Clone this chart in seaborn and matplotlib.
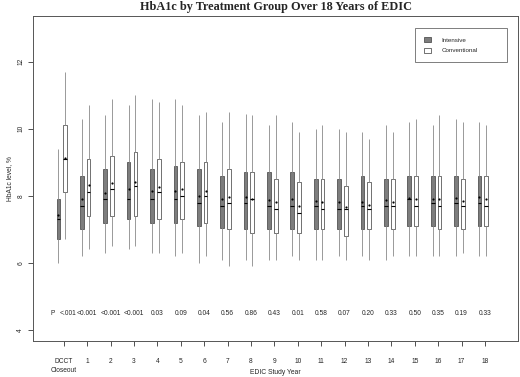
import numpy as np
import pandas as pd
import matplotlib
matplotlib.use("Agg")
import matplotlib.pyplot as plt
import seaborn as sns

# ===== DATA =====
years = ["DCCT\nCloseout"] + [str(i) for i in range(1, 19)]
p_values = ["<.001", "<0.001", "<0.001", "<0.001", "0.03", "0.09", "0.04", "0.56", "0.86",
            "0.43", "0.01", "0.58", "0.07", "0.20", "0.33", "0.50", "0.35", "0.19", "0.33"]

# intensive group: whisker low, Q1, median, Q3, whisker high, mean
int_lo = [6.0, 6.2, 6.3, 6.4, 6.3, 6.2, 6.0, 6.1, 6.1, 6.1, 6.2, 6.1, 6.2, 6.2, 6.1, 6.2, 6.2, 6.2, 6.2]
int_q1 = [6.7, 7.0, 7.2, 7.3, 7.2, 7.2, 7.1, 7.05, 7.0, 7.0, 7.0, 7.0, 7.0, 7.0, 7.1, 7.1, 7.1, 7.1, 7.1]
int_med = [7.3, 7.7, 7.9, 7.9, 7.9, 7.9, 7.8, 7.7, 7.8, 7.7, 7.7, 7.7, 7.6, 7.7, 7.7, 7.9, 7.8, 7.8, 7.8]
int_q3 = [7.9, 8.6, 8.8, 9.0, 8.8, 8.9, 8.8, 8.6, 8.7, 8.7, 8.7, 8.5, 8.5, 8.6, 8.5, 8.6, 8.6, 8.6, 8.6]
int_hi = [9.4, 10.3, 10.4, 10.7, 10.9, 10.9, 10.4, 10.2, 10.45, 10.1, 10.2, 10.0, 10.0, 9.9, 10.1, 10.2, 10.1, 10.3, 10.2]
int_mean = [7.42, 7.91, 8.09, 8.21, 8.15, 8.13, 8.01, 7.91, 7.98, 7.87, 7.91, 7.85, 7.83, 7.83, 7.87, 7.95, 7.91, 7.95, 7.98]

# conventional group
conv_lo = [6.7, 6.4, 6.5, 6.5, 6.3, 6.3, 6.2, 5.9, 5.9, 6.1, 6.1, 6.1, 6.1, 6.1, 6.2, 6.2, 6.2, 6.3, 6.2]
conv_q1 = [8.1, 7.4, 7.4, 7.4, 7.3, 7.3, 7.2, 7.0, 6.9, 6.9, 6.9, 7.0, 6.8, 7.0, 7.0, 7.1, 7.0, 7.0, 7.1]
conv_med = [9.1, 8.1, 8.2, 8.3, 8.1, 8.0, 8.0, 7.8, 7.9, 7.6, 7.5, 7.6, 7.6, 7.6, 7.7, 7.7, 7.7, 7.7, 7.7]
conv_q3 = [10.1, 9.1, 9.2, 9.3, 9.1, 9.0, 9.0, 8.8, 8.7, 8.5, 8.4, 8.5, 8.3, 8.4, 8.5, 8.6, 8.6, 8.5, 8.6]
conv_hi = [11.7, 10.7, 10.9, 11.0, 10.8, 10.7, 10.5, 10.5, 10.4, 10.4, 9.9, 10.1, 9.9, 9.7, 9.9, 10.3, 10.4, 10.2, 10.1]
conv_mean = [9.12, 8.33, 8.39, 8.42, 8.27, 8.21, 8.15, 7.98, 7.92, 7.83, 7.71, 7.82, 7.68, 7.73, 7.81, 7.90, 7.91, 7.85, 7.91]

# five-number data per box -> seaborn computes the same quartiles back
rows = []
for i, yr in enumerate(years):
    for grp, stats in (("Intensive", (int_lo, int_q1, int_med, int_q3, int_hi)),
                       ("Conventional", (conv_lo, conv_q1, conv_med, conv_q3, conv_hi))):
        for s in stats:
            rows.append({"year": yr, "group": grp, "value": s[i]})
df = pd.DataFrame(rows)

# ===== PLOT =====
sns.set_style("white")
plt.rcParams["font.family"] = ["Liberation Sans", "DejaVu Sans"]

fig, ax = plt.subplots(figsize=(5.2, 3.77), dpi=100)
fig.subplots_adjust(left=0.064, right=0.996, top=0.958, bottom=0.0955)

width = 0.58
sns.boxplot(data=df, x="year", y="value", hue="group", order=years,
            hue_order=["Intensive", "Conventional"],
            palette={"Intensive": "#7d7d7d", "Conventional": "white"},
            width=width, gap=0.45, whis=(0, 100), showcaps=False,
            linecolor="#4a4a4a", linewidth=0.55,
            medianprops=dict(color="black", linewidth=0.8),
            whiskerprops=dict(color="#999999", linewidth=0.7),
            ax=ax)

pos = np.arange(len(years))
off = width / 4
ax.scatter(pos - off, int_mean, s=2.5, color="black", zorder=5, linewidths=0)
ax.scatter(pos + off, conv_mean, s=2.5, color="black", zorder=5, linewidths=0)

ax.set_xlim(-1.22, 19.5)
ax.set_ylim(3.67, 13.37)
ax.set_xticks(pos + 0.09)
ax.set_xticklabels(years, fontsize=4.8, linespacing=1.3)
ax.set_yticks([4, 6, 8, 10, 12])
ax.set_yticklabels(["4", "6", "8", "10", "12"], fontsize=4.8, rotation=90, va="center")
ax.tick_params(axis="both", direction="out", length=3.5, width=0.6, color="#333333",
               bottom=True, left=True)
ax.tick_params(axis="x", pad=9)
ax.tick_params(axis="y", pad=3)

for sp in ax.spines.values():
    sp.set_visible(True)
    sp.set_color("#555555")
    sp.set_linewidth(0.7)

# p-values row
ax.text(-0.37, 4.5, "P", fontsize=4.8, ha="center", va="center")
for i, p in enumerate(p_values):
    x = pos[i] + 0.09 if i > 0 else 0.25
    ax.text(x, 4.5, p, fontsize=4.8, ha="center", va="center")

ax.set_xlabel("EDIC Study Year", fontsize=4.9)
ax.xaxis.set_label_coords(0.5, -0.086)
ax.set_ylabel("HbA1c level, %", fontsize=4.8)
ax.yaxis.set_label_coords(-0.042, 0.5)
ax.set_title("HbA1c by Treatment Group Over 18 Years of EDIC",
             fontfamily="Liberation Serif", fontweight="bold", fontsize=8.8, pad=4)

handles, labels = ax.get_legend_handles_labels()
leg = ax.legend(handles, labels, loc="upper left", bbox_to_anchor=(0.7875, 0.8, 0.19, 0.163),
                mode="expand", fontsize=4.5, frameon=True, fancybox=False, edgecolor="#444444",
                borderpad=1.4, handlelength=1.2, handleheight=1.0, labelspacing=0.8,
                handletextpad=1.6, borderaxespad=0)
leg.get_frame().set_linewidth(0.6)

plt.savefig("out.png", dpi=100)
